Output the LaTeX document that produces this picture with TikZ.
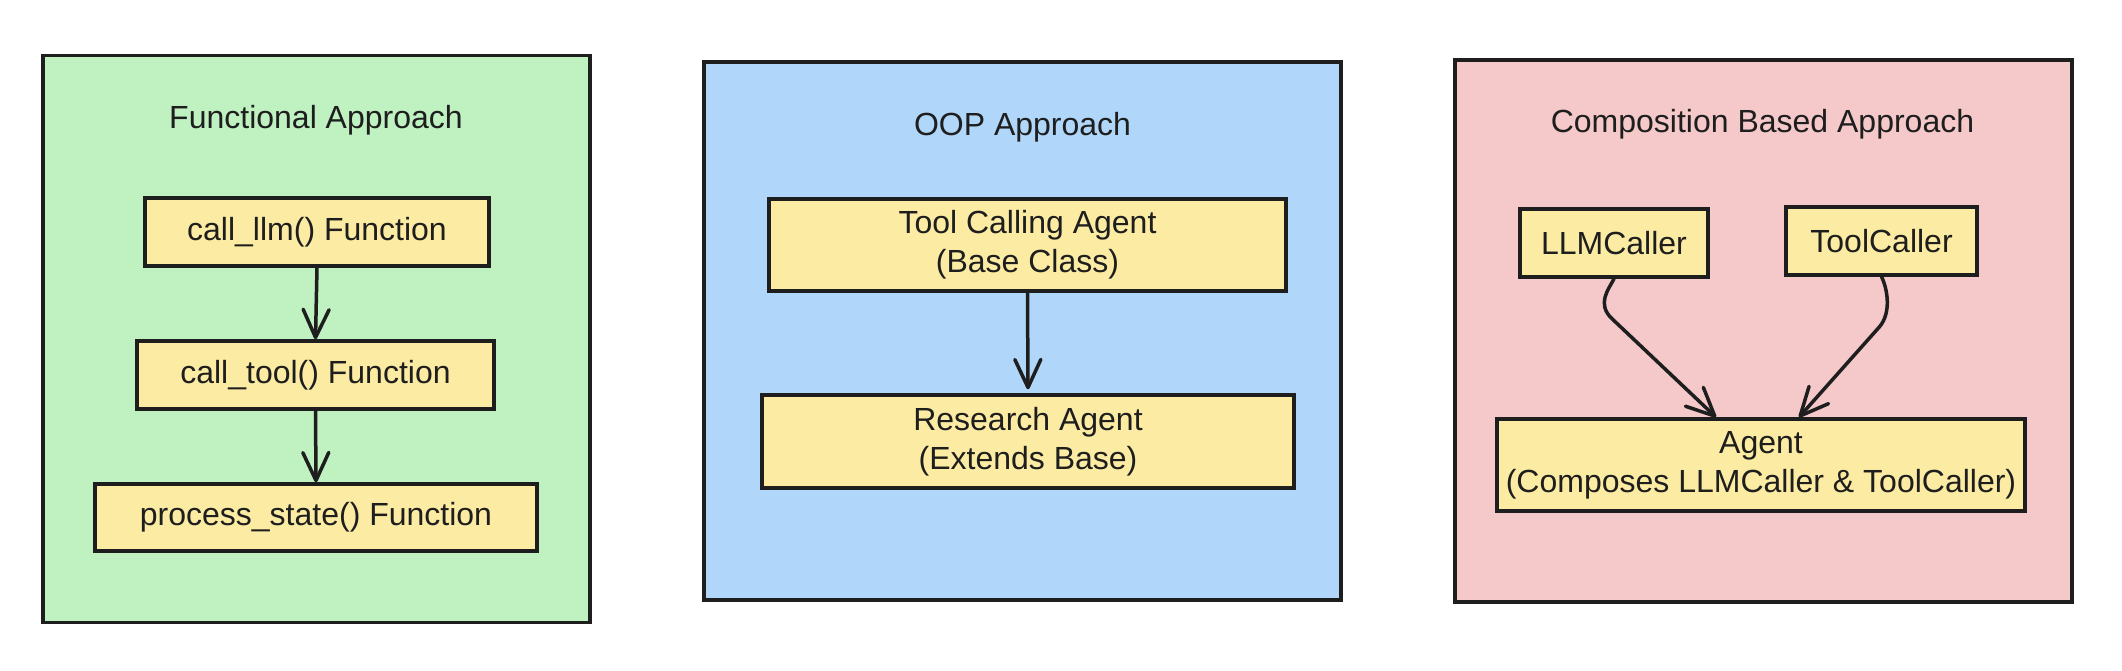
\documentclass[tikz,border=0pt]{standalone}
\usepackage{fontspec}
\setmainfont{Liberation Sans}
\usetikzlibrary{arrows.meta,calc}
\definecolor{stroke}{HTML}{1E1E1E}
\definecolor{greenbg}{HTML}{BFF1C1}
\definecolor{bluebg}{HTML}{B0D6F9}
\definecolor{pinkbg}{HTML}{F5C9C9}
\definecolor{boxfill}{HTML}{FCEBA2}
\tikzset{
  panel/.style={draw=stroke, line width=3.5pt, inner sep=0pt, outer sep=0pt},
  stepbox/.style={draw=stroke, fill=boxfill, line width=3.5pt, inner sep=0pt,
    align=center, text=stroke, font=\fontsize{32}{39}\selectfont},
  ptitle/.style={anchor=base, text=stroke, inner sep=0pt, font=\fontsize{32}{39}\selectfont},
  arr/.style={draw=stroke, line width=3.5pt, line cap=round, line join=round,
    -{Straight Barb[length=28pt,width=26pt,round]}}
}
\begin{document}
\begin{tikzpicture}[x=1pt,y=1pt]
\useasboundingbox (0,0) rectangle (2122,670);
% panels
\node[panel, fill=greenbg, minimum width=547pt, minimum height=567pt] (p1) at (316.5,331) {};
\node[panel, fill=bluebg, minimum width=637pt, minimum height=538pt] (p2) at (1022.5,339) {};
\node[panel, fill=pinkbg, minimum width=617pt, minimum height=542pt] (p3) at (1763.5,339) {};
% titles
\node[ptitle] (t1) at (316,541) {Functional Approach};
\node[ptitle] (t2) at (1022.5,534) {OOP Approach};
\node[ptitle] (t3) at (1762.5,537) {Composition Based Approach};
% functional
\node[stepbox, minimum width=344pt, minimum height=68pt] (a1) at (317,438) {call\_llm() Function};
\node[stepbox, minimum width=357pt, minimum height=68pt] (a2) at (315.5,295) {call\_tool() Function};
\node[stepbox, minimum width=442pt, minimum height=67pt] (a3) at (316,152.5) {process\_state() Function};
\draw[arr] (a1.south) -- (a2.north);
\draw[arr] (a2.south) -- (a3.north);
% OOP
\node[stepbox, minimum width=517pt, minimum height=92pt] (b1) at (1027.5,425) {Tool Calling Agent\\(Base Class)};
\node[stepbox, minimum width=532pt, minimum height=93pt] (b2) at (1028,228.5) {Research Agent\\(Extends Base)};
\draw[arr] (b1.south) -- ($(b2.north)+(0,4)$);
% composition
\node[stepbox, minimum width=188pt, minimum height=68pt] (c1) at (1614,427) {LLMCaller};
\node[stepbox, minimum width=191pt, minimum height=68pt] (c2) at (1881.5,429) {ToolCaller};
\node[stepbox, minimum width=528pt, minimum height=92pt] (c3) at (1761,205) {Agent\\(Composes LLMCaller \& ToolCaller)};
\coordinate (c3l) at ($(c3.north)+(-45,0)$);
\coordinate (c3r) at ($(c3.north)+(38,0)$);
\draw[arr] (c1.south) .. controls ($(c1.south)+(-5,-10)$) and ($(c1.south)+(-18,-25)$) .. ($(c1.south)+(-2,-40)$) -- (c3l);
\draw[arr] (c2.south) .. controls ($(c2.south)+(6,-12)$) and ($(c2.south)+(10,-36)$) .. ($(c2.south)+(-2,-50)$) -- (c3r);
\end{tikzpicture}
\end{document}
